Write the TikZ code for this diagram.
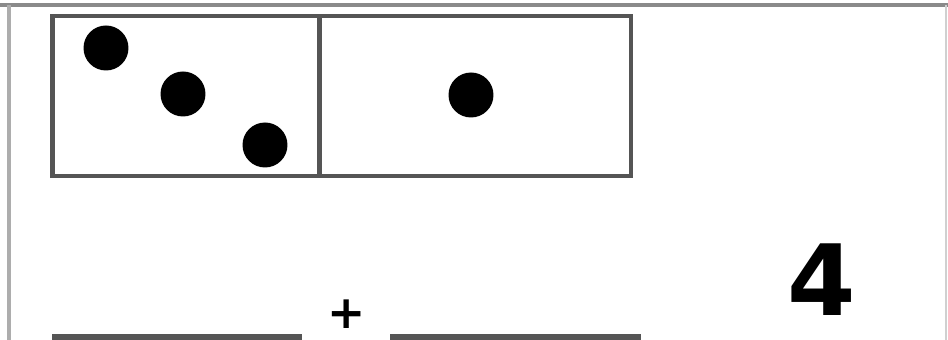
\documentclass[tikz,border=0pt]{standalone}
\usepackage{fontspec}
\newfontfamily\numfont{DejaVu Sans}
\definecolor{framegray}{HTML}{8A8A8A}
\definecolor{boxgray}{HTML}{555555}
\begin{document}
\begin{tikzpicture}[x=0.02cm,y=-0.02cm,
  dot/.style={circle,fill=black,inner sep=0pt,minimum size=0.9cm},
  cell/.style={draw=boxgray,line width=2.4pt,inner sep=0pt},
  baseline/.style={draw=boxgray,line width=3.2pt}]
\useasboundingbox[fill=white] (0,0) rectangle (948,340);
% outer frame
\draw[framegray,line width=2.6pt] (0,5) -- (948,5);
\draw[framegray!70,line width=2pt] (9,5) -- (9,340);
\draw[framegray!40,line width=1pt] (946,5) -- (946,340);
% cells
\node[cell,minimum width=5.34cm,minimum height=3.2cm] (left) at (186,96) {};
\node[cell,minimum width=6.22cm,minimum height=3.2cm] (right) at (475.5,96) {};
% dots
\node[dot] (d1) at (106,48) {};
\node[dot] (d2) at (183,94) {};
\node[dot] (d3) at (265,145) {};
\node[dot] (d4) at (471,95) {};
% number
\node[font=\numfont\bfseries\fontsize{56}{58}\selectfont,inner sep=0pt] (four) at (822,280) {4};
% plus
\node[font=\numfont\bfseries\fontsize{26}{28}\selectfont,inner sep=0pt] (plus) at (347,314) {+};
% bottom lines
\coordinate (a1) at (52,337);
\coordinate (a2) at (302,337);
\coordinate (b1) at (390,337);
\coordinate (b2) at (641,337);
\draw[baseline] (a1) -- (a2);
\draw[baseline] (b1) -- (b2);
\end{tikzpicture}
\end{document}
